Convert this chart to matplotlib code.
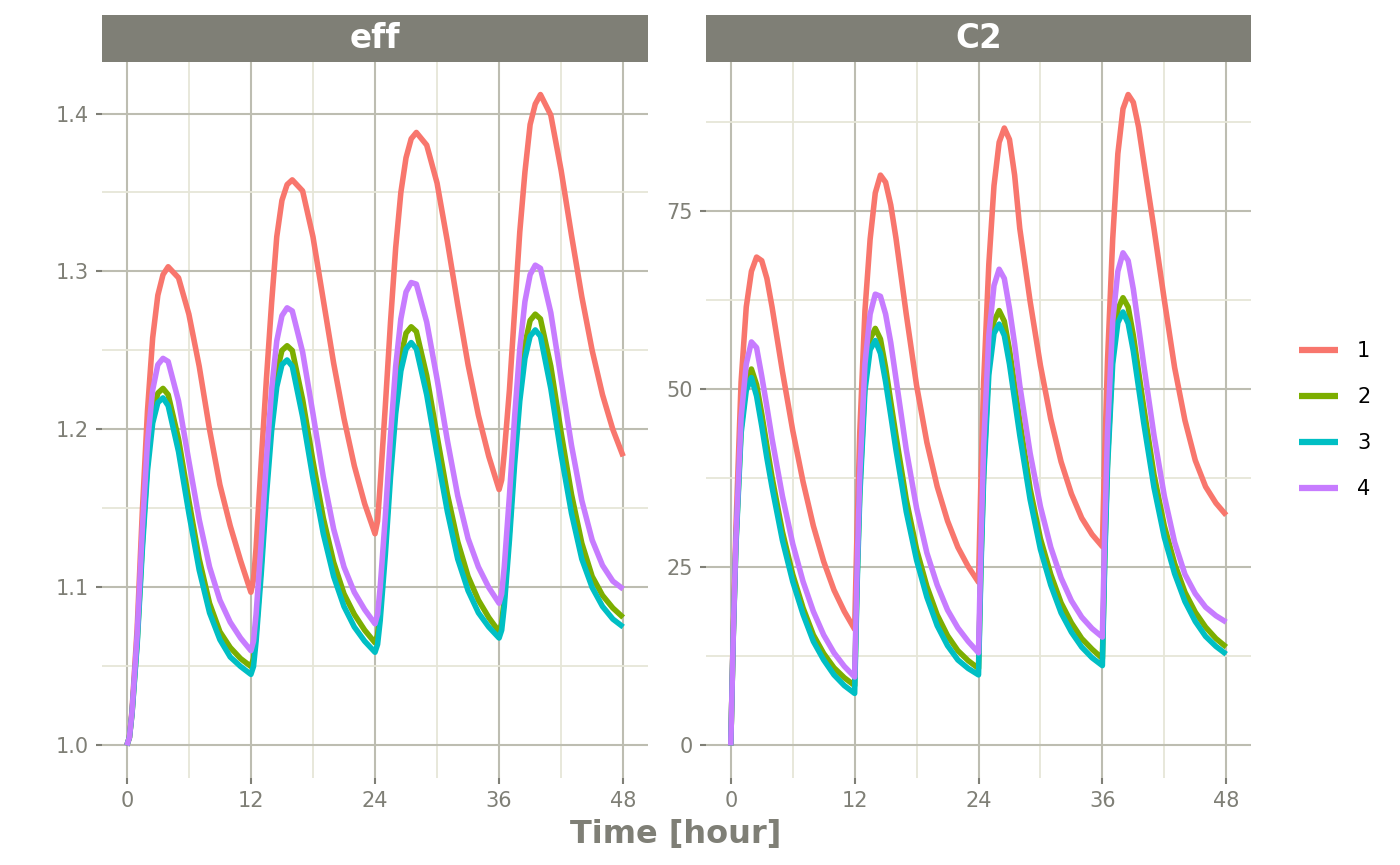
import matplotlib
matplotlib.use('Agg')
import matplotlib.pyplot as plt
from matplotlib.ticker import FixedLocator
from matplotlib.lines import Line2D

# sampling times: four doses, 12 h apart
dose_times = [0, 12, 24, 36]
offsets = [0, 0.25, 0.5, 1, 1.5, 2, 2.5, 3, 3.5, 4, 5, 6, 7, 8, 9, 10, 11]
time = [d + o for d in dose_times for o in offsets] + [48]

subjects = ['1', '2', '3', '4']
colors = ['#F8766D', '#7CAE00', '#00BFC4', '#C77CFF']

# eff
eff_1 = [1.000, 1.005, 1.022, 1.074, 1.148, 1.212, 1.258, 1.285, 1.298, 1.303, 1.296, 1.273, 1.240, 1.200, 1.165, 1.139, 1.117,
         1.097, 1.105, 1.125, 1.180, 1.232, 1.280, 1.322, 1.345, 1.355, 1.358, 1.351, 1.322, 1.282, 1.242, 1.207, 1.177, 1.153,
         1.134, 1.142, 1.165, 1.215, 1.268, 1.315, 1.350, 1.372, 1.384, 1.388, 1.380, 1.356, 1.319, 1.279, 1.241, 1.209, 1.183,
         1.162, 1.168, 1.185, 1.225, 1.275, 1.325, 1.363, 1.393, 1.406, 1.412, 1.399, 1.364, 1.323, 1.284, 1.250, 1.222, 1.200,
         1.183]
eff_2 = [1.000, 1.005, 1.020, 1.066, 1.128, 1.179, 1.210, 1.223, 1.226, 1.222, 1.194, 1.155, 1.118, 1.090, 1.072, 1.062, 1.055,
         1.050, 1.055, 1.071, 1.115, 1.165, 1.207, 1.236, 1.250, 1.253, 1.250, 1.219, 1.180, 1.144, 1.116, 1.096, 1.083, 1.073,
         1.065, 1.070, 1.086, 1.128, 1.177, 1.218, 1.246, 1.261, 1.265, 1.262, 1.234, 1.196, 1.159, 1.129, 1.107, 1.092, 1.081,
         1.072, 1.077, 1.093, 1.136, 1.185, 1.226, 1.254, 1.269, 1.273, 1.270, 1.240, 1.198, 1.159, 1.128, 1.107, 1.095, 1.087,
         1.081]
eff_3 = [1.000, 1.005, 1.020, 1.064, 1.124, 1.174, 1.204, 1.217, 1.220, 1.215, 1.186, 1.147, 1.111, 1.084, 1.067, 1.056, 1.050,
         1.045, 1.050, 1.066, 1.109, 1.158, 1.199, 1.227, 1.241, 1.244, 1.240, 1.208, 1.169, 1.134, 1.107, 1.088, 1.075, 1.066,
         1.059, 1.064, 1.079, 1.121, 1.170, 1.210, 1.237, 1.251, 1.255, 1.251, 1.222, 1.184, 1.148, 1.118, 1.098, 1.084, 1.075,
         1.068, 1.073, 1.088, 1.130, 1.178, 1.218, 1.245, 1.259, 1.263, 1.259, 1.226, 1.184, 1.147, 1.118, 1.100, 1.088, 1.080,
         1.075]
eff_4 = [1.000, 1.005, 1.021, 1.070, 1.137, 1.192, 1.225, 1.241, 1.245, 1.243, 1.218, 1.180, 1.143, 1.113, 1.092, 1.078, 1.068,
         1.060, 1.066, 1.083, 1.129, 1.181, 1.225, 1.256, 1.272, 1.277, 1.275, 1.249, 1.210, 1.170, 1.137, 1.113, 1.097, 1.086,
         1.077, 1.083, 1.100, 1.145, 1.196, 1.240, 1.270, 1.287, 1.293, 1.292, 1.268, 1.232, 1.193, 1.158, 1.131, 1.113, 1.100,
         1.090, 1.096, 1.113, 1.158, 1.208, 1.251, 1.281, 1.298, 1.304, 1.302, 1.274, 1.232, 1.190, 1.155, 1.130, 1.114, 1.104,
         1.099]

# C2
c2_1 = [0.0, 16.5, 30.5, 51.0, 61.5, 66.5, 68.5, 68.0, 65.5, 61.5, 52.5, 44.2, 37.0, 30.8, 25.8, 21.8, 18.8,
        16.3, 31.0, 44.0, 61.0, 71.0, 77.5, 80.0, 79.0, 75.8, 71.2, 60.5, 50.5, 42.5, 36.3, 31.5, 27.8, 25.1,
        22.9, 38.0, 51.0, 67.5, 78.5, 84.6, 86.6, 85.0, 80.0, 72.5, 62.3, 53.3, 45.8, 39.8, 35.3, 31.9, 29.6,
        27.9, 42.0, 54.0, 71.0, 83.0, 89.3, 91.3, 90.2, 86.8, 82.0, 72.5, 62.5, 53.0, 45.6, 40.0, 36.3, 34.0,
        32.3]
c2_2 = [0.0, 16.0, 28.5, 44.5, 50.8, 52.8, 50.6, 46.5, 42.0, 37.6, 30.0, 24.0, 19.3, 15.5, 12.9, 10.9, 9.5,
        8.4, 24.0, 36.0, 51.0, 57.0, 58.5, 57.0, 53.0, 48.2, 43.5, 34.5, 27.5, 22.3, 18.3, 15.4, 13.3, 11.9,
        10.8, 26.5, 38.5, 53.5, 59.5, 61.0, 59.5, 55.5, 50.5, 45.5, 36.0, 29.0, 24.0, 20.0, 17.2, 15.0, 13.5,
        12.2, 28.0, 40.0, 55.0, 61.2, 62.8, 61.5, 57.5, 52.5, 47.5, 38.0, 30.8, 25.5, 21.5, 18.7, 16.6, 15.0,
        13.8]
c2_3 = [0.0, 15.8, 28.0, 43.8, 49.8, 51.6, 49.0, 44.8, 40.3, 36.2, 28.8, 23.0, 18.4, 14.6, 12.0, 9.9, 8.4,
        7.3, 23.0, 35.0, 49.8, 55.5, 56.8, 55.0, 51.0, 46.3, 41.5, 32.8, 26.0, 20.8, 16.8, 14.0, 12.0, 10.8,
        9.9, 25.5, 37.5, 52.0, 57.8, 59.1, 57.5, 53.5, 48.5, 43.5, 34.5, 27.5, 22.5, 18.6, 15.9, 13.8, 12.3,
        11.2, 27.0, 39.0, 53.5, 59.3, 60.8, 59.2, 55.3, 50.3, 45.3, 36.2, 29.2, 24.1, 20.2, 17.4, 15.3, 13.9,
        12.8]
c2_4 = [0.0, 16.0, 29.0, 46.0, 53.5, 56.6, 55.8, 51.8, 47.5, 43.0, 35.0, 28.3, 23.0, 18.8, 15.5, 13.0, 11.1,
        9.6, 25.5, 38.0, 53.5, 60.5, 63.3, 63.0, 60.5, 56.5, 51.5, 41.5, 33.3, 27.0, 22.5, 19.0, 16.5, 14.6,
        13.0, 29.0, 42.0, 57.5, 64.5, 66.8, 65.5, 61.3, 56.3, 50.5, 41.0, 33.5, 27.8, 23.5, 20.3, 18.0, 16.4,
        15.2, 31.0, 44.0, 59.5, 66.5, 69.1, 68.0, 64.0, 58.8, 53.5, 43.5, 35.0, 28.5, 24.0, 21.3, 19.4, 18.2,
        17.3]

panels = [
    ('eff', [eff_1, eff_2, eff_3, eff_4], [1.0, 1.1, 1.2, 1.3, 1.4], [1.05, 1.15, 1.25, 1.35], ['1.0', '1.1', '1.2', '1.3', '1.4']),
    ('C2', [c2_1, c2_2, c2_3, c2_4], [0, 25, 50, 75], [12.5, 37.5, 62.5, 87.5], ['0', '25', '50', '75']),
]
x_major = [0, 12, 24, 36, 48]
x_minor = [6, 18, 30, 42]

grey = '#7f7f76'
major_col = '#bdbdb1'
minor_col = '#e6e6d8'

W, H = 1400, 865
fig = plt.figure(figsize=(W / 100, H / 100), dpi=100)

# panel boxes in pixels: left, right, top, bottom
boxes = [(102, 648, 62, 778), (706, 1251, 62, 778)]

for (name, series, yt, ymt, ylab), (x0, x1, y0, y1) in zip(panels, boxes):
    ax = fig.add_axes([x0 / W, 1 - y1 / H, (x1 - x0) / W, (y1 - y0) / H])
    for vals, col in zip(series, colors):
        ax.plot(time, vals, color=col, lw=4.0, solid_capstyle='butt', solid_joinstyle='round')

    lo = min(min(s) for s in series)
    hi = max(max(s) for s in series)
    pad = 0.05 * (hi - lo)
    ax.set_ylim(lo - pad, hi + pad)
    ax.set_xlim(-2.4, 50.4)

    ax.xaxis.set_major_locator(FixedLocator(x_major))
    ax.xaxis.set_minor_locator(FixedLocator(x_minor))
    ax.yaxis.set_major_locator(FixedLocator(yt))
    ax.yaxis.set_minor_locator(FixedLocator(ymt))
    ax.set_yticklabels(ylab)
    ax.set_xticklabels([str(v) for v in x_major])

    ax.set_axisbelow(True)
    ax.grid(which='major', color=major_col, lw=1.5)
    ax.grid(which='minor', color=minor_col, lw=1.3)
    for sp in ax.spines.values():
        sp.set_visible(False)
    ax.tick_params(which='major', length=4.5, width=1.5, color=grey, labelcolor=grey,
                   labelsize=15, pad=5)
    ax.tick_params(which='minor', length=0)

    # facet strip
    sax = fig.add_axes([x0 / W, 1 - y0 / H, (x1 - x0) / W, 47 / H])
    sax.set_facecolor(grey)
    sax.set_xticks([])
    sax.set_yticks([])
    for sp in sax.spines.values():
        sp.set_visible(False)
    sax.text(0.5, 0.5, name, ha='center', va='center', color='white',
             fontsize=23.5, fontweight='bold', transform=sax.transAxes)

fig.text(676 / W, 1 - 835 / H, 'Time [hour]', ha='center', va='center',
         fontsize=23, fontweight='bold', color=grey)

handles = [Line2D([], [], color=c, lw=4.5, solid_capstyle='butt') for c in colors]
fig.legend(handles, subjects, loc='center left', bbox_to_anchor=(1280 / W, 1 - 420 / H),
           frameon=False, fontsize=15, handlelength=1.9, handletextpad=0.9,
           labelspacing=1.25, borderpad=0.4)

fig.savefig('out.png', dpi=100)
